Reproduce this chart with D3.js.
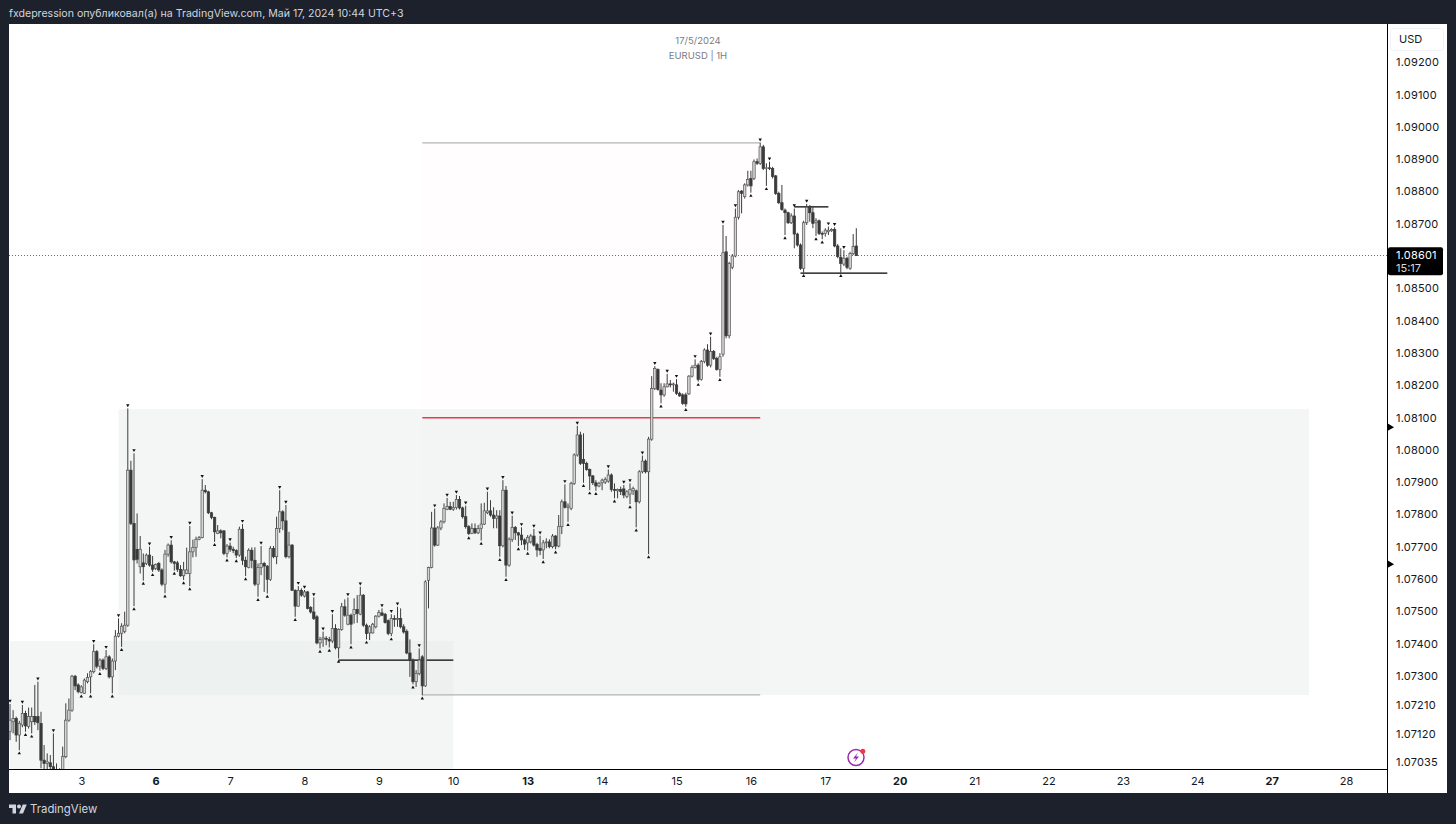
<!DOCTYPE html>
<html><head><meta charset="utf-8">
<script src="https://cdn.jsdelivr.net/npm/d3@7/dist/d3.min.js"></script>
<style>html,body{margin:0;padding:0;background:#1c212c}svg{display:block;font-family:Inter,"Liberation Sans",sans-serif}</style>
</head><body><svg id="c" width="1456" height="824"></svg>
<script>
// EURUSD 1H candles, prices in 1e-5 units
const opens=[107127,107158,107168,107117,107148,107184,107143,107158,107174,107174,
107153,107039,107029,107031,107019,107005,106995,107009,107050,107163,
107194,107299,107272,107248,107246,107282,107297,107313,107375,107330,
107349,107323,107359,107297,107346,107423,107432,107437,107457,107937,
107772,107692,107638,107650,107648,107674,107643,107633,107648,107628,
107584,107677,107705,107653,107650,107630,107610,107617,107617,107684,
107698,107723,107728,107875,107870,107805,107791,107741,107749,107749,
107679,107702,107692,107688,107674,107754,107658,107636,107689,107658,
107584,107636,107648,107640,107599,107694,107669,107756,107808,107780,
107669,107705,107565,107516,107565,107547,107560,107512,107498,107483,
107402,107414,107416,107413,107408,107447,107387,107444,107514,107460,
107488,107490,107506,107491,107550,107457,107433,107433,107452,107485,
107495,107491,107471,107431,107478,107475,107478,107452,107438,107371,
107349,107282,107308,107359,107269,107596,107636,107758,107705,107758,
107777,107816,107824,107816,107821,107846,107820,107793,107762,107741,
107756,107743,107757,107770,107805,107811,107798,107788,107795,107703,
107875,107643,107723,107760,107743,107736,107721,107712,107715,107733,
107707,107695,107690,107712,107715,107700,107733,107702,107762,107839,
107822,107819,107896,107984,108046,107970,107958,107939,107919,107898,
107888,107898,107900,107903,107922,107877,107873,107877,107879,107855,
107863,107873,107873,107839,107932,107965,107932,108033,108190,108249,
108185,108170,108195,108204,108201,108201,108175,108170,108170,108173,
108228,108255,108262,108218,108273,108309,108262,108304,108283,108249,
108296,108613,108353,108565,108600,108720,108801,108784,108820,108840,
108840,108892,108887,108938,108871,108873,108871,108848,108794,108765,
108742,108734,108703,108724,108668,108634,108562,108703,108751,108734,
108703,108709,108670,108670,108675,108678,108682,108631,108596,108575,
108593,108562,108608,108631];
const highs=[107213,107194,107174,107161,107210,107192,107202,107202,107272,107282,
107189,107086,107060,107055,107122,107029,107014,107081,107215,107230,
107303,107303,107277,107271,107292,107308,107318,107398,107380,107354,
107354,107380,107364,107354,107442,107478,107463,107499,108128,107966,
107989,107803,107733,107679,107679,107700,107671,107648,107653,107633,
107690,107710,107720,107656,107656,107643,107653,107697,107764,107722,
107731,107733,107909,107891,107873,107808,107793,107767,107754,107751,
107708,107713,107700,107692,107762,107770,107669,107695,107698,107698,
107648,107702,107653,107643,107702,107702,107793,107875,107813,107829,
107746,107708,107568,107578,107571,107566,107563,107516,107543,107488,
107421,107437,107423,107421,107491,107460,107447,107526,107537,107543,
107493,107540,107550,107576,107553,107462,107457,107464,107488,107504,
107509,107495,107475,107491,107488,107514,107509,107460,107444,107413,
107354,107318,107385,107364,107596,107638,107808,107818,107764,107782,
107834,107851,107839,107839,107860,107857,107824,107827,107767,107772,
107772,107767,107834,107836,107870,107844,107822,107813,107813,107906,
107888,107729,107796,107764,107746,107760,107726,107736,107739,107755,
107712,107734,107721,107726,107723,107739,107736,107798,107846,107893,
107834,107901,107989,108074,108056,108051,107963,107942,107922,107906,
107901,107911,107915,107939,107927,107896,107880,107886,107891,107875,
107896,107886,107877,107937,107982,107970,108040,108228,108259,108252,
108206,108206,108235,108216,108208,108219,108180,108175,108177,108231,
108262,108280,108268,108278,108314,108327,108350,108309,108288,108299,
108696,108662,108582,108606,108747,108804,108804,108825,108864,108864,
108899,108902,108951,108944,108887,108892,108876,108851,108799,108820,
108747,108737,108732,108747,108672,108639,108709,108761,108758,108755,
108717,108713,108676,108686,108691,108686,108689,108637,108624,108618,
108598,108613,108668,108686];
const lows=[107101,107122,107096,107070,107141,107127,107137,107122,107148,107132,
107014,107009,107009,106998,106993,106985,106985,107003,107045,107158,
107189,107256,107246,107246,107244,107277,107246,107308,107323,107316,
107318,107318,107292,107246,107318,107419,107390,107432,107452,107767,
107516,107648,107617,107595,107643,107638,107622,107628,107622,107578,
107556,107669,107648,107626,107622,107607,107597,107615,107578,107667,
107669,107720,107726,107865,107801,107785,107715,107739,107726,107674,
107667,107684,107680,107665,107669,107643,107609,107633,107633,107578,
107545,107612,107560,107555,107594,107664,107646,107743,107751,107664,
107664,107563,107483,107514,107545,107543,107506,107493,107473,107398,
107385,107390,107395,107388,107402,107382,107354,107440,107483,107457,
107398,107462,107464,107488,107452,107413,107411,107431,107447,107481,
107485,107462,107426,107423,107452,107452,107447,107431,107367,107297,
107274,107266,107302,107240,107266,107509,107633,107700,107702,107751,
107772,107813,107813,107811,107815,107815,107787,107756,107736,107739,
107739,107739,107719,107767,107801,107793,107757,107757,107669,107698,
107607,107638,107715,107721,107702,107705,107690,107688,107710,107700,
107669,107674,107662,107695,107695,107695,107692,107698,107739,107818,
107777,107813,107891,107979,107953,107898,107935,107875,107891,107873,
107884,107875,107894,107898,107870,107850,107850,107860,107850,107850,
107832,107860,107760,107834,107927,107927,107677,108028,108185,108183,
108144,108164,108193,108193,108180,108170,108164,108139,108133,108170,
108224,108252,108211,108214,108268,108257,108255,108278,108245,108226,
108288,108345,108345,108559,108596,108713,108732,108778,108815,108796,
108835,108882,108882,108866,108817,108866,108840,108789,108761,108740,
108665,108699,108699,108624,108629,108557,108548,108696,108706,108686,
108662,108665,108652,108660,108665,108675,108627,108593,108548,108569,
108559,108557,108603,108600];
const closes=[107163,107168,107117,107153,107184,107145,107174,107174,107158,107155,
107039,107029,107034,107019,107009,106995,107000,107050,107163,107194,
107299,107269,107251,107266,107287,107295,107313,107375,107330,107349,
107323,107359,107297,107346,107423,107432,107454,107457,107937,107772,
107659,107661,107692,107638,107674,107643,107630,107645,107628,107584,
107677,107705,107653,107648,107630,107610,107628,107628,107684,107698,
107723,107728,107875,107870,107805,107791,107746,107749,107743,107679,
107702,107692,107688,107674,107754,107658,107638,107689,107658,107584,
107636,107648,107640,107599,107694,107669,107756,107808,107780,107669,
107705,107565,107516,107565,107550,107560,107509,107498,107478,107402,
107413,107418,107414,107408,107447,107387,107444,107514,107488,107488,
107460,107506,107493,107550,107457,107431,107452,107460,107485,107496,
107488,107465,107431,107478,107475,107478,107452,107436,107371,107349,
107282,107308,107349,107269,107591,107636,107758,107705,107758,107777,
107818,107824,107816,107821,107846,107820,107793,107762,107741,107756,
107743,107756,107770,107811,107811,107798,107788,107795,107703,107875,
107643,107723,107760,107743,107736,107721,107708,107729,107733,107705,
107690,107688,107712,107715,107700,107733,107702,107762,107839,107822,
107826,107896,107984,108046,107958,107958,107939,107919,107898,107888,
107896,107906,107908,107922,107877,107875,107877,107871,107860,107870,
107877,107880,107839,107932,107965,107932,108033,108190,108252,108187,
108170,108195,108204,108201,108204,108175,108167,108144,108142,108228,
108255,108262,108218,108273,108309,108262,108304,108283,108249,108288,
108610,108353,108577,108600,108720,108799,108794,108820,108837,108817,
108892,108887,108938,108871,108873,108871,108846,108794,108765,108744,
108734,108703,108724,108668,108634,108562,108703,108751,108734,108701,
108709,108670,108668,108680,108680,108682,108631,108598,108577,108593,
108565,108608,108629,108601];
// Fractal markers (bar indices)
const fractalHighs=[0,4,9,14,27,31,35,38,40,45,52,58,62,71,75,81,87,89,93,95,98,101,104,109,113,120,123,125,132,137,141,144,147,154,159,162,165,169,171,179,183,193,198,200,204,208,212,215,221,226,230,234,242,245,253,257,264,266,269];
const fractalLows=[3,5,7,23,26,29,33,36,40,43,46,50,53,56,58,66,70,73,76,80,83,92,100,103,106,110,115,123,130,133,148,152,158,160,164,167,172,176,180,185,187,189,195,200,202,206,210,218,222,229,239,244,250,256,260,262,268];
// Axis
const priceTicks=[109200,109100,109000,108900,108800,108700,108500,108400,108300,108200,108100,108000,107900,107800,107700,107600,107500,107400,107300,107210,107120,107035];
const dayLabels=["3","6","7","8","9","10","13","14","15","16","17","20","21","22","23","24","27","28"];
const dayBars=[23,47,71,95,119,143,167,191,215,239,263,287,311,335,359,383,407,431];
const boldDays=["6","13","20","27"];
// Drawings: [fromBar,toBar,topPrice,bottomPrice]
const zones=[[0,143,107408,106900],[35,419,108126,107241]];
const rangeBox=[133,242,108950,107241];
const levelLines=[[133,242,108099,"#f23645",1.5],[133,242,108950,"#b4b4b4",1.3],[133,242,107241,"#b4b4b4",1.3],[106,143,107349,"#000",1.2],[253,264,108752,"#000",1.2],[255,283,108547,"#000",1.2]];
const lastPrice=108601, alertPrices=[108070,107646];

const svg=d3.select("#c");
const W=1456,H=824,L=9,R=1387,T=24,B=769;
svg.append("rect").attr("width",W).attr("height",H).attr("fill","#1c212c");
svg.append("rect").attr("x",L).attr("y",T).attr("width",1438).attr("height",B-T+24).attr("fill","#fff");
const x=d3.scaleLinear().domain([0,273]).range([10,856.3]);
const y=d3.scaleLinear().domain([108600,109200]).range([256,62.2]);
const ySnap=p=>Math.floor(y(p))+.5;
svg.append("clipPath").attr("id","pl").append("rect").attr("x",L).attr("y",T).attr("width",R-L).attr("height",B-T);
const g=svg.append("g").attr("clip-path","url(#pl)");
// zones
g.selectAll("rect.z").data(zones).join("rect").attr("class","z")
 .attr("x",d=>x(d[0])).attr("width",d=>x(d[1])-x(d[0])).attr("y",d=>y(d[2])).attr("height",d=>y(d[3])-y(d[2]))
 .attr("fill","#e8eeeb").attr("fill-opacity",.5);
g.append("rect").attr("x",x(rangeBox[0])).attr("width",x(rangeBox[1])-x(rangeBox[0])).attr("y",y(rangeBox[2])).attr("height",y(rangeBox[3])-y(rangeBox[2]))
 .attr("fill","#f8d8e8").attr("fill-opacity",.05);
// last price dotted
g.append("line").attr("x1",L).attr("x2",R).attr("y1",ySnap(lastPrice)).attr("y2",ySnap(lastPrice)).attr("stroke","#6a6d78").attr("stroke-width",1).attr("stroke-dasharray","1 2");
g.selectAll("line.lv").data(levelLines).join("line").attr("class","lv")
 .attr("x1",d=>x(d[0])).attr("x2",d=>x(d[1])).attr("y1",d=>y(d[2])).attr("y2",d=>y(d[2])).attr("stroke",d=>d[3]).attr("stroke-width",d=>d[4]);
// candles
const bars=opens.map((o,i)=>({i,o,h:highs[i],l:lows[i],c:closes[i]}));
const cg=g.append("g");
cg.selectAll("line.w").data(bars).join("line").attr("class","w")
 .attr("x1",d=>x(d.i)).attr("x2",d=>x(d.i)).attr("y1",d=>y(d.h)).attr("y2",d=>y(d.l)).attr("stroke","#3c3c3c").attr("stroke-width",1);
cg.selectAll("rect.b").data(bars).join("rect").attr("class","b")
 .attr("x",d=>x(d.i)-1.2).attr("width",2.4).attr("y",d=>y(Math.max(d.o,d.c))).attr("height",d=>Math.max(.8,Math.abs(y(d.o)-y(d.c))))
 .attr("fill",d=>d.c>=d.o?"#d4d4d4":"#3a3a3a").attr("stroke",d=>d.c>=d.o?"#555":"#3a3a3a").attr("stroke-width",.7);
// fractals
const tri=d3.symbol().type(d3.symbolTriangle).size(5)();
cg.selectAll("path.fh").data(fractalHighs).join("path").attr("class","fh").attr("d",tri).attr("fill","#111")
 .attr("transform",i=>`translate(${x(i)},${y(highs[i])-3.2}) rotate(180)`);
cg.selectAll("path.fl").data(fractalLows).join("path").attr("class","fl").attr("d",tri).attr("fill","#111")
 .attr("transform",i=>`translate(${x(i)},${y(lows[i])+3.2})`);
// centre title
const title=svg.append("g").attr("font-size",9.5).attr("fill","#787b86").attr("text-anchor","middle");
title.append("text").attr("x",698).attr("y",43.5).text("17/5/2024");
title.append("text").attr("x",698).attr("y",58.5).text("EURUSD | 1H");
// price axis
const ya=d3.axisRight(y).tickValues(priceTicks).tickSize(0).tickPadding(9).tickFormat(v=>(v/1e5).toFixed(5));
const yg=svg.append("g").attr("transform",`translate(${R},0)`).call(ya);
yg.select(".domain").remove();
yg.selectAll("text").attr("font-size",11).attr("fill","#131722").attr("font-family","Inter,sans-serif").attr("letter-spacing",.2);
svg.append("line").attr("x1",R+.5).attr("x2",R+.5).attr("y1",T).attr("y2",793).attr("stroke","#000").attr("stroke-width",1);
// x axis
const xa=d3.axisBottom(x).tickValues(dayBars).tickSize(0).tickPadding(8).tickFormat((d,i)=>dayLabels[i]);
const xg=svg.append("g").attr("transform",`translate(0,${B})`).call(xa);
xg.select(".domain").remove();
xg.selectAll("text").attr("font-size",11).attr("fill","#131722").attr("font-family","Inter,sans-serif")
 .attr("font-weight",(d,i)=>boldDays.includes(dayLabels[i])?700:400);
svg.append("line").attr("x1",L).attr("x2",R).attr("y1",B+.5).attr("y2",B+.5).attr("stroke","#000").attr("stroke-width",1);
// USD button
svg.append("rect").attr("x",1390.5).attr("y",28.5).attr("width",53).attr("height",22).attr("rx",3).attr("fill","#fff").attr("stroke","#f0f3fa");
svg.append("text").attr("x",1399).attr("y",43).attr("font-size",11).attr("fill","#131722").text("USD");
// last price tag
svg.append("rect").attr("x",1388).attr("y",y(lastPrice)-8.5).attr("width",55).attr("height",28).attr("rx",2).attr("fill","#000");
svg.append("text").attr("x",1396).attr("y",y(lastPrice)+3.5).attr("font-size",11).attr("fill","#fff").attr("letter-spacing",.2).text((lastPrice/1e5).toFixed(5));
svg.append("text").attr("x",1396).attr("y",y(lastPrice)+16).attr("font-size",11).attr("fill","#d8d8d8").text("15:17");
// alert arrows on axis
svg.selectAll("path.al").data(alertPrices).join("path").attr("class","al").attr("fill","#000")
 .attr("d",d3.symbol().type(d3.symbolTriangle).size(26)()).attr("transform",p=>`translate(${R+2.6},${y(p)}) rotate(90)`);
// lightning icon
const ic=svg.append("g").attr("transform","translate(856,757.5)");
ic.append("circle").attr("r",8).attr("fill","#fff").attr("stroke","#9c27b0").attr("stroke-width",1.5);
ic.append("path").attr("d","M2 -5 L-3 1 L0 1 L-2 5 L3 -1 L0 -1 Z").attr("fill","#9c27b0");
ic.append("circle").attr("cx",6.8).attr("cy",-6.3).attr("r",2.5).attr("fill","#f23645");
// header and footer
svg.append("text").attr("x",9).attr("y",17).attr("font-size",10.6).attr("fill","#d1d4dc").text("fxdepression опубликовал(а) на TradingView.com, Май 17, 2024 10:44 UTC+3");
const lg=svg.append("g").attr("transform","translate(9,802.6) scale(.5)").attr("fill","#d1d4dc");
lg.append("path").attr("d","M14 22H7V11H0V4h14v18zM28 22h-8l7.5-18h8L28 22z");
lg.append("circle").attr("cx",20).attr("cy",8).attr("r",4);
svg.append("text").attr("x",30).attr("y",813).attr("font-size",11.4).attr("fill","#d1d4dc").text("TradingView");
</script></body></html>
